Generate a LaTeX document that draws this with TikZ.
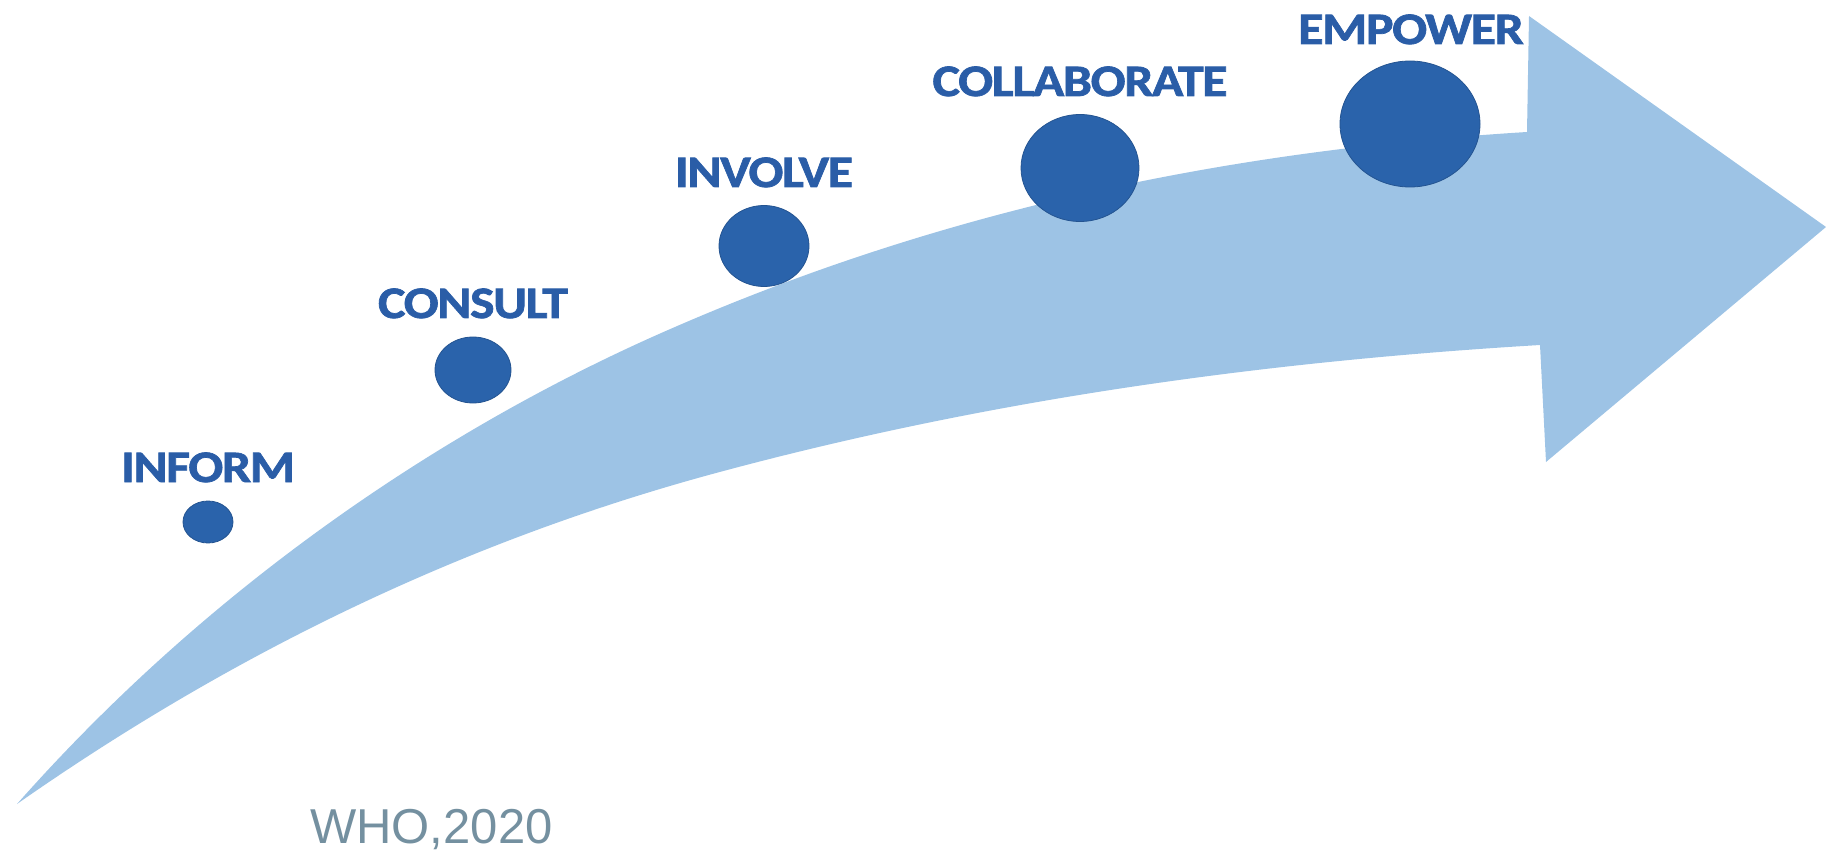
\documentclass[tikz,border=0pt]{standalone}
\usepackage{fontspec}
\setmainfont{Carlito}
\newfontfamily\lblfont{Carlito}[FakeBold=1.6, FakeStretch=1.15, LetterSpace=-3]
\newfontfamily\whofont{Liberation Sans}
\usetikzlibrary{shapes.geometric}
\definecolor{arrowblue}{HTML}{9DC3E5}
\definecolor{dotblue}{HTML}{2A63AB}
\definecolor{labelblue}{HTML}{2A5DA7}
\definecolor{srcgray}{HTML}{7490A0}
\tikzset{
  dot/.style={ellipse, fill=dotblue, draw=dotblue!85!black, line width=0.8pt, inner sep=0pt},
  stage/.style={anchor=base, inner sep=0pt, text=labelblue, font=\lblfont\bfseries\fontsize{45}{45}\selectfont},
  source/.style={anchor=base west, inner sep=0pt, text=srcgray, font=\whofont\fontsize{49}{49}\selectfont}
}
\begin{document}
\begin{tikzpicture}[x=1pt, y=-1pt]
\useasboundingbox (0,0) rectangle (1826,850);
% big curved arrow
\coordinate (tail) at (17,804);
\coordinate (mid-up) at (650,338);
\coordinate (neck-up) at (1527,132);
\coordinate (head-top) at (1529,16);
\coordinate (tip) at (1826,227);
\coordinate (head-bot) at (1546,462);
\coordinate (neck-low) at (1540,345);
\coordinate (mid-low) at (716,473);
\fill[arrowblue] (tail)
  .. controls (217,578) and (450,428) .. (mid-up)
  .. controls (942,207) and (1235,150) .. (neck-up)
  -- (head-top) -- (tip) -- (head-bot) -- (neck-low)
  .. controls (1265,361.5) and (991,398.7) .. (mid-low)
  .. controls (483,536) and (250,641) .. (tail)
  -- cycle;
% dots
\node[dot, minimum width=50pt, minimum height=42pt] (d1) at (208,522) {};
\node[dot, minimum width=76pt, minimum height=66pt] (d2) at (473,370) {};
\node[dot, minimum width=90pt, minimum height=81pt] (d3) at (764,246) {};
\node[dot, minimum width=118pt, minimum height=107pt] (d4) at (1080,168) {};
\node[dot, minimum width=140pt, minimum height=126pt] (d5) at (1410,124) {};
% labels
\node[stage] (l1) at (208,482) {INFORM};
\node[stage] (l2) at (473,318) {CONSULT};
\node[stage] (l3) at (764,187) {INVOLVE};
\node[stage] (l4) at (1080,96) {COLLABORATE};
\node[stage] (l5) at (1411,44) {EMPOWER};
% source
\node[source] (src) at (310,843) {WHO,2020};
\end{tikzpicture}
\end{document}
